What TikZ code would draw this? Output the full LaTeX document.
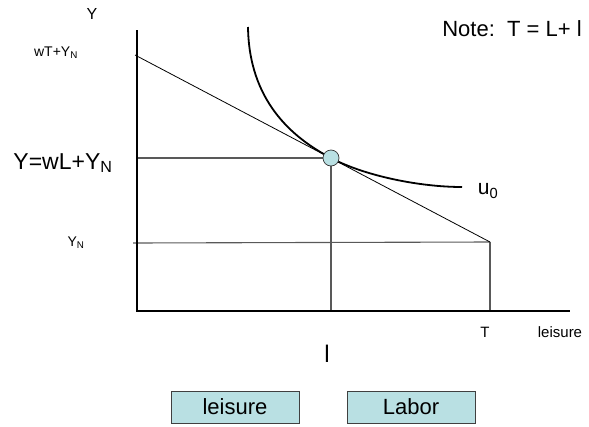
\documentclass[tikz,border=0pt]{standalone}
\usepackage{fontspec}
\setmainfont{Liberation Sans}
\usepackage{xcolor}
\usetikzlibrary{calc}
\definecolor{paleteal}{RGB}{185,224,227}
\newcommand{\fsz}[1]{\fontsize{#1}{#1}\selectfont}

\begin{document}
\begin{tikzpicture}[
  x=1pt, y=-1pt,
  axis/.style={line width=1.2pt, black},
  guide/.style={line width=1.1pt, black!65},
  budget/.style={line width=0.8pt, black},
  indiff/.style={line width=1.8pt, black},
  optdot/.style={circle, draw=black!80, line width=0.7pt, fill=paleteal,
                 minimum size=16pt, inner sep=0pt},
  lbl/.style={inner sep=0pt},
  tagbox/.style={draw=black!75, line width=0.9pt, fill=paleteal,
                 minimum width=128pt, minimum height=32pt, inner sep=0pt,
                 font=\fsz{22}}
]
\useasboundingbox (0,0) rectangle (589,426);
\coordinate (O) at (137,311);
\coordinate (ytop) at (137,30);
\coordinate (xend) at (570,311);
\coordinate (bA) at (135,55);
\coordinate (bB) at (490,242);
\coordinate (ynl) at (133,243);
\coordinate (opt) at (331,158);
% guides
\draw[guide] (O |- opt) -- (opt);
\draw[guide] (opt) -- (opt |- O);
\draw[guide] (ynl) -- (bB);
\draw[guide] (bB) -- (bB |- O);
% axes
\draw[axis] (ytop) -- (O) -- (xend);
% budget line and indifference curve
\draw[budget] (bA) -- (bB);
\draw[indiff] (248,27) .. controls (249,100) and (291,137) .. (opt)
  .. controls (365,176) and (420,187) .. (462,187);
\node[optdot] (optpt) at (opt) {};
% labels
\node[lbl, font=\fsz{16}] (ylab) at (92,14) {Y};
\node[lbl, font=\fsz{14}] (wtyn) at (56,53) {wT+Y\textsubscript{N}};
\node[lbl, font=\fsz{23}] (ywl) at (63,163) {Y=wL+Y\textsubscript{N}};
\node[lbl, font=\fsz{14}] (yn) at (76,243) {Y\textsubscript{N}};
\node[lbl, font=\fsz{22}] (note) at (512,29) {Note:\ \ T = L+ l};
\node[lbl, font=\fsz{21}] (u0) at (488,191) {u\textsubscript{0}};
\node[lbl, font=\fsz{15}] (tlab) at (485,332) {T};
\node[lbl, font=\fsz{15}] (leis) at (560,332) {leisure};
\node[lbl, font=\fsz{24}] (llab) at (327,354) {l};
\node[tagbox] (leisbox) at (235,407) {leisure};
\node[tagbox] (labbox) at (411,407) {Labor};
\end{tikzpicture}
\end{document}
